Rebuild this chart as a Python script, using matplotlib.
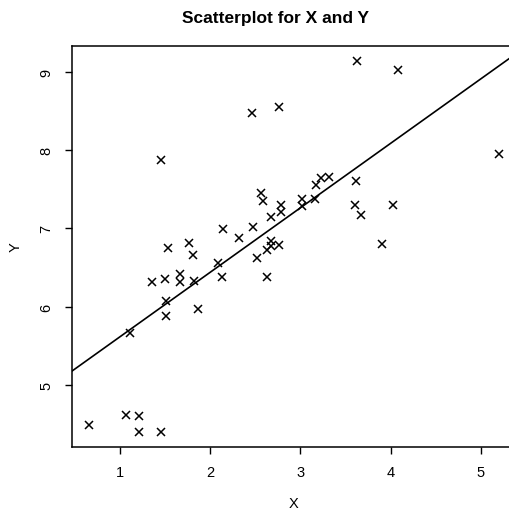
import matplotlib
matplotlib.use('Agg')
import matplotlib.pyplot as plt
import numpy as np

plt.rcParams['font.family'] = ['Liberation Sans', 'DejaVu Sans']

# data
x = [0.657, 1.066, 1.21, 1.21, 1.46, 1.114, 1.513, 1.513, 1.86, 1.354,
     1.50, 1.665, 1.668, 1.823, 1.808, 1.77, 1.535, 2.085, 2.126, 2.514,
     2.625, 2.625, 2.676, 2.76, 2.68, 2.32, 2.144, 2.48, 1.457, 2.465,
     2.768, 2.561, 2.587, 2.676, 2.786, 2.786, 3.628, 4.086, 5.208, 3.613,
     3.315, 3.23, 3.178, 3.023, 3.023, 3.163, 3.606, 3.676, 4.023, 3.905]
y = [4.49, 4.62, 4.61, 4.40, 4.40, 5.66, 5.88, 6.07, 5.97, 6.31,
     6.35, 6.42, 6.32, 6.33, 6.66, 6.81, 6.75, 6.56, 6.375, 6.62,
     6.375, 6.72, 6.77, 6.79, 6.84, 6.88, 6.99, 7.02, 7.87, 8.47,
     8.55, 7.45, 7.35, 7.14, 7.30, 7.21, 9.14, 9.02, 7.95, 7.60,
     7.66, 7.64, 7.55, 7.38, 7.29, 7.38, 7.30, 7.17, 7.30, 6.80]
xticks = [1, 2, 3, 4, 5]
yticks = [5, 6, 7, 8, 9]

fig = plt.figure(figsize=(5.1, 5.1), dpi=100)
ax = fig.add_axes([72/510, 1-447.5/510, 443/510, 400.8/510])

ax.plot(x, y, 'x', color='black', markersize=5.5, markeredgewidth=1.1)

# least squares line
b, a = np.polyfit(x, y, 1)
xl = np.array([0, 6])
ax.plot(xl, a + b*xl, color='black', linewidth=1.2)

ax.set_xlim(0.468, 5.38)
ax.set_ylim(4.215, 9.333)
ax.set_xticks(xticks)
ax.set_yticks(yticks)
ax.set_yticklabels([str(v) for v in yticks], rotation=90, va='center')
ax.tick_params(direction='out', length=5, width=1, labelsize=10.5, pad=8.5, color='black')
for s in ax.spines.values():
    s.set_linewidth(1.1)

ax.set_xlabel('X', fontsize=10.5, labelpad=12)
ax.set_ylabel('Y', fontsize=10.5, labelpad=12)
fig.text(0.5 + 21/510, 1-19/510, 'Scatterplot for X and Y', ha='center', va='center',
         fontsize=12.5, fontweight='bold')

fig.savefig('out.png', dpi=100)
